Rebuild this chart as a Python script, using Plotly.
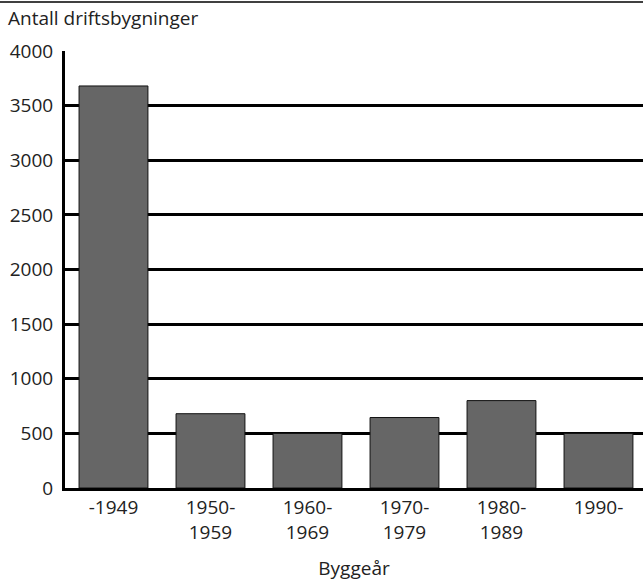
import plotly.graph_objects as go

categories = ["-1949", "1950-<br>1959", "1960-<br>1969", "1970-<br>1979", "1980-<br>1989", "1990-"]
values = [3680, 680, 500, 645, 800, 500]
y_ticks = [0, 500, 1000, 1500, 2000, 2500, 3000, 3500, 4000]

W, H = 643, 581
L, R, T, B = 65, 0, 51, 93
pw = W - L - R
ph = H - T - B

font = "Open Sans, Noto Sans, DejaVu Sans, sans-serif"
FS = 19

fig = go.Figure(go.Bar(
    x=list(range(len(categories))),
    y=values,
    width=0.71,
    marker=dict(color="#666666", line=dict(color="#111111", width=1)),
))

fig.update_layout(
    width=W, height=H,
    margin=dict(l=L, r=R, t=T, b=B, autoexpand=False),
    plot_bgcolor="white", paper_bgcolor="white",
    showlegend=False,
    font=dict(family=font, size=FS, color="#222222"),
    xaxis=dict(
        tickmode="array",
        tickvals=list(range(len(categories))),
        ticktext=categories,
        range=[-0.5, 5.459],
        showgrid=False,
        showline=True, linecolor="black", linewidth=3,
        ticks="",
        tickfont=dict(size=FS),
        title=dict(text="Byggeår", font=dict(size=FS), standoff=19),
        fixedrange=True,
    ),
    yaxis=dict(
        range=[0, 4000],
        tickmode="array",
        tickvals=y_ticks,
        ticktext=[str(v) for v in y_ticks],
        showgrid=True, gridcolor="black", gridwidth=2.5,
        showline=True, linecolor="black", linewidth=3,
        zeroline=False,
        ticks="",
        ticklabelstandoff=5,
        tickfont=dict(size=FS),
        fixedrange=True,
    ),
    bargap=0.29,
)

fig.add_shape(type="line", xref="paper", yref="paper",
              x0=-L / pw, x1=1.0, y0=(H - B - 2) / ph, y1=(H - B - 2) / ph,
              line=dict(color="black", width=1.5))

fig.add_annotation(text="Antall driftsbygninger", xref="paper", yref="paper",
                   x=(6 - L) / pw, y=(H - B - 18) / ph, xanchor="left", yanchor="middle",
                   showarrow=False, font=dict(size=FS, family=font, color="#222222"))

fig.write_html("out.html", config={"displayModeBar": False},
               post_script="document.body.style.margin='0';document.body.style.overflow='hidden';")
